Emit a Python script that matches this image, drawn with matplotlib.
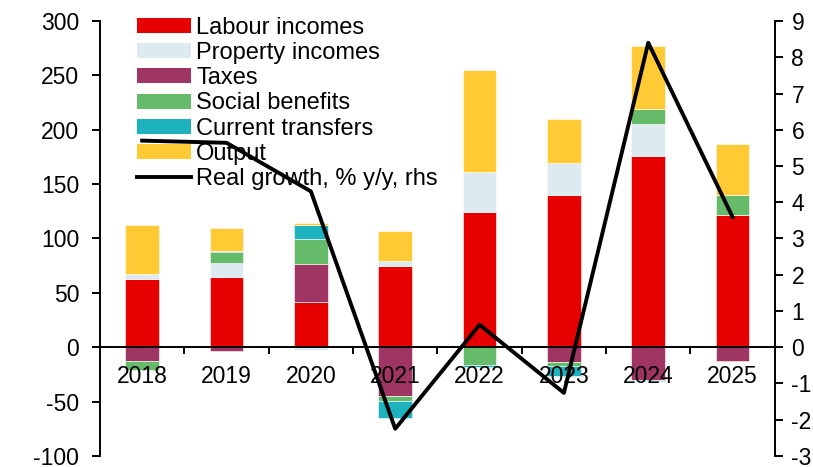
import numpy as np
import matplotlib
matplotlib.use("Agg")
import matplotlib.pyplot as plt
from matplotlib.lines import Line2D
from matplotlib.patches import Patch

plt.rcParams['font.family'] = ['Liberation Sans', 'DejaVu Sans']
plt.rcParams['font.size'] = 16.5
plt.rcParams['axes.unicode_minus'] = False

years = ['2018', '2019', '2020', '2021', '2022', '2023', '2024', '2025']
labour = [63, 65, 41.4, 75.1, 124.1, 140.4, 176.3, 122]
property_inc = [4, 12.6, -2.4, 4.6, 37.5, 29.4, 29.1, 0]
taxes = [-12.3, -3.7, 35.3, -44.4, 0, -13.4, -30, -12.9]
social = [-9, 9.8, 23, -4.9, -16.5, -4.1, 14.1, 18.4]
transfers = [0, 1, 12.5, -16, -1.9, -9.2, -1, 0]
output = [45, 20.8, 1.8, 27, 93, 40.2, 57.9, 46.9]
real_growth = [5.7, 5.64, 4.3, -2.25, 0.62, -1.26, 8.4, 3.59]

series = [
    ('Labour incomes', labour, '#e60000'),
    ('Property incomes', property_inc, '#ddebf1'),
    ('Taxes', taxes, '#9e3563'),
    ('Social benefits', social, '#66bb6a'),
    ('Current transfers', transfers, '#1db2bd'),
    ('Output', output, '#ffca33'),
]

fig = plt.figure(figsize=(8.13, 4.67), dpi=100)
ax = fig.add_axes([0.123, 0.0236, 0.83, 0.9314])
ax2 = ax.twinx()

x = np.arange(len(years))
pos = np.zeros(len(years))
neg = np.zeros(len(years))
for name, vals, col in series:
    v = np.array(vals, dtype=float)
    bottom = np.where(v >= 0, pos, neg)
    ax.bar(x, v, 0.4, bottom=bottom, color=col, edgecolor='white', linewidth=0.4, zorder=1)
    pos += np.where(v >= 0, v, 0)
    neg += np.where(v < 0, v, 0)

ax2.plot(x, real_growth, color='black', lw=2.8, zorder=5)

ax.set_xlim(-0.5, 7.5)
ax.set_ylim(-100, 300)
ax.set_yticks(range(-100, 301, 50))
ax2.set_ylim(-3, 9)
ax2.set_yticks(range(-3, 10))

for a in (ax, ax2):
    a.spines['top'].set_visible(False)
ax.spines['right'].set_visible(False)
ax2.spines['left'].set_visible(False)
ax2.spines['bottom'].set_visible(False)
ax.spines['bottom'].set_position(('data', 0))
for s in ('left', 'bottom'):
    ax.spines[s].set_linewidth(1.4)
ax2.spines['right'].set_linewidth(1.4)

ax.set_xticks(x)
ax.set_xticklabels(years)
ax.set_xticks(np.arange(0.5, 7, 1), minor=True)
ax.tick_params(axis='x', which='major', length=0, pad=13)
ax.tick_params(axis='x', which='minor', length=5, width=1.4, direction='out')
ax.tick_params(axis='y', length=6, width=1.4, pad=9)
ax2.tick_params(axis='y', length=6, width=1.4, pad=6)

handles = [Patch(facecolor=c, label=n) for n, _, c in series]
handles.append(Line2D([], [], color='black', lw=2.8, label='Real growth, % y/y, rhs'))
ax.legend(handles=handles, loc='upper left', bbox_to_anchor=(0.041, 1.032), frameon=False,
          fontsize=17, handlelength=2.3, handleheight=0.6, handletextpad=0.2,
          labelspacing=0.14, borderaxespad=0)

fig.savefig('out.png', dpi=100)
